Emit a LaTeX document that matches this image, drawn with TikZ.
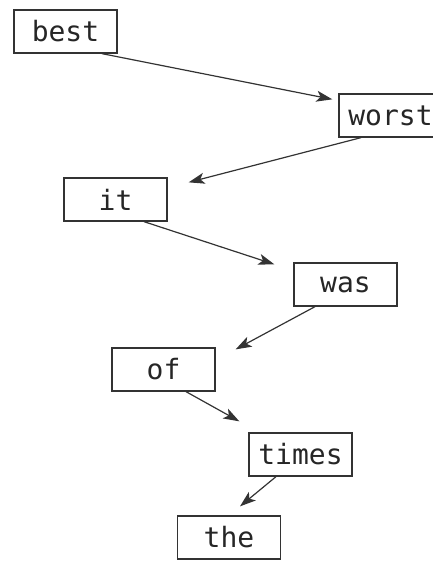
\documentclass[tikz,border=0pt]{standalone}
\usepackage{fontspec}
\setmonofont{DejaVu Sans Mono}
\tikzset{
  word/.style={draw=black!80, line width=1.3pt, fill=white, text=black!85,
    minimum width=103pt, minimum height=43pt, inner sep=0pt,
    font=\ttfamily\fontsize{28}{28}\selectfont},
  link/.style={draw=black!80, line width=1.2pt, -{Stealth[length=16pt,width=11pt,inset=4pt]}}
}
\usetikzlibrary{arrows.meta}
\begin{document}
\begin{tikzpicture}[x=1pt,y=1pt]

  \useasboundingbox (0,0) rectangle (432,-561);

  % words, in the order of the tree
  \node[word] (best)  at ( 65.5, -31.5) {best};
  \node[word] (worst) at (390.5,-115.5) {worst};
  \node[word] (it)    at (115.5,-199.5) {it};
  \node[word] (was)   at (345.5,-284.5) {was};
  \node[word] (of)    at (163.5,-369.5) {of};
  \node[word] (times) at (300.5,-454.5) {times};
  \node[word] (the)   at (229.0,-537.5) {the};

  \draw[link] ([xshift= 36.5]best.south)  -- ([shift={(-6,-6)}]worst.north west);
  \draw[link] ([xshift=-29.5]worst.south) -- ([shift={(21,-5)}]it.north east);
  \draw[link] ([xshift= 28.5]it.south)    -- ([shift={(-19,-2)}]was.north west);
  \draw[link] ([xshift=-30.5]was.south)   -- ([shift={(20,-2)}]of.north east);
  \draw[link] ([xshift= 22.5]of.south)    -- ([shift={(-9,11)}]times.north west);
  \draw[link] ([xshift=-24.5]times.south) -- ([shift={(11,9)}]the.north);

\end{tikzpicture}
\end{document}
